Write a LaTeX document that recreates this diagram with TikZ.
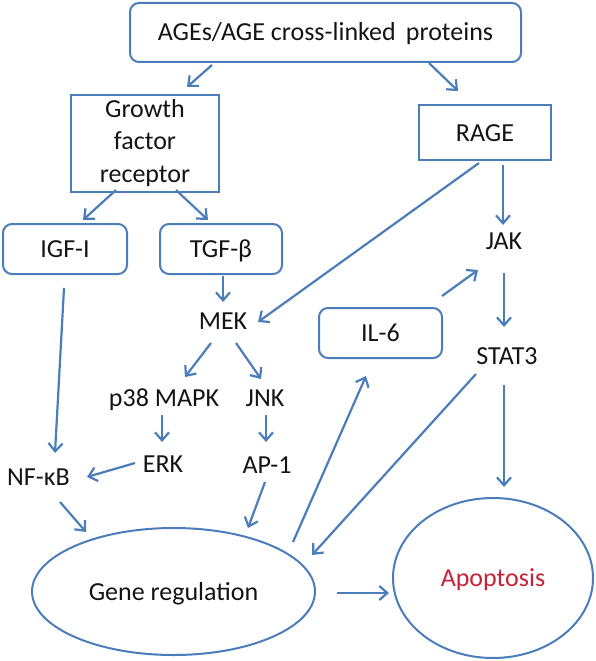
\documentclass[tikz,border=0pt]{standalone}
\usepackage{fontspec}
\setmainfont{Carlito}
\usetikzlibrary{arrows.meta,calc,shapes.geometric}
\definecolor{lblue}{RGB}{74,125,186}
\definecolor{apred}{RGB}{200,32,52}
\definecolor{txt}{RGB}{20,20,20}
\tikzset{
  lbl/.style={inner sep=0pt, text height=17pt, text depth=0pt, text=txt, font=\fontsize{26}{32.5}\selectfont},
  rbox/.style={lbl, draw=lblue, line width=2pt, rounded corners=9pt},
  sbox/.style={lbl, draw=lblue, line width=2pt},
  ebox/.style={lbl, draw=lblue, line width=2pt, ellipse},
  arr/.style={draw=lblue, line width=2.2pt, -{Straight Barb[length=8pt,width=14pt]}}
}
\begin{document}
\begin{tikzpicture}[x=1pt,y=-1pt]
\useasboundingbox (0,0) rectangle (596,661);
% nodes
\node[rbox, minimum width=391pt, minimum height=59pt] (ages) at (325.5,32.5) {AGEs/AGE cross-linked\, proteins};
\node[sbox, minimum width=148pt, minimum height=97pt, align=center, text height={}, text depth={}] (grow) at (145,143) {Growth\\factor\\receptor};
\node[sbox, minimum width=132pt, minimum height=55pt] (rage) at (485,132.5) {RAGE};
\node[rbox, minimum width=124pt, minimum height=50pt] (igf) at (65,249) {IGF-I};
\node[rbox, minimum width=122pt, minimum height=50pt] (tgf) at (221,249) {TGF-β};
\node[rbox, minimum width=123pt, minimum height=50pt] (il6) at (380.5,333) {IL-6};
\node[lbl] (mek) at (223,321) {MEK};
\node[lbl] (jak) at (504,241) {JAK};
\node[lbl] (stat3) at (507,356) {STAT3};
\node[lbl] (p38) at (164,398) {p38 MAPK};
\node[lbl] (jnk) at (265,398) {JNK};
\node[lbl] (erk) at (163,464) {ERK};
\node[lbl] (ap1) at (267,465) {AP-1};
\node[lbl] (nfkb) at (38.5,477) {NF-κB};
\node[ebox, minimum width=283pt, minimum height=127pt] (gene) at (173.5,591.5) {Gene regulation};
\node[ebox, minimum width=200pt, minimum height=160pt, text=apred] (apop) at (493,578) {Apoptosis};
% connectors
\draw[arr] ($(ages)+(-113.5,32.5)$) -- ($(grow)+(42,-56)$);
\draw[arr] ($(ages)+(103.5,30.5)$) -- ($(rage)+(-27,-41.5)$);
\draw[arr] ($(grow)+(-29,47)$) -- ($(igf)+(18,-29)$);
\draw[arr] ($(grow)+(31,47)$) -- ($(tgf)+(-13,-29)$);
\draw[arr] ($(tgf)+(2,27)$) -- ($(mek)+(0,-19)$);
\draw[arr] ($(rage)+(-6,30.5)$) -- ($(mek)+(35,1)$);
\draw[arr] ($(rage)+(18,32.5)$) -- ($(jak)+(-1,-16)$);
\draw[arr] ($(igf)+(-1,39)$) -- ($(nfkb)+(16.5,-24)$);
\draw[arr] ($(mek)+(-12,22)$) -- ($(p38)+(21,-21)$);
\draw[arr] ($(mek)+(13,22)$) -- ($(jnk)+(-4,-19)$);
\draw[arr] ($(p38)+(-2,17)$) -- ($(erk)+(-1,-22)$);
\draw[arr] ($(jnk)+(1,17)$) -- ($(ap1)+(-1,-23)$);
\draw[arr] ($(erk)+(-28,-1)$) -- ($(nfkb)+(48.5,0)$);
\draw[arr] ($(nfkb)+(21.5,25)$) -- ($(gene)+(-87.5,-59.5)$);
\draw[arr] ($(ap1)+(-2,17)$) -- ($(gene)+(74.5,-63.5)$);
\draw[arr] ($(il6)+(61.5,-37)$) -- ($(jak)+(-26,29)$);
\draw[arr] ($(jak)+(0,32)$) -- ($(stat3)+(-3,-29)$);
\draw[arr] ($(gene)+(119.5,-49.5)$) -- ($(il6)+(-14.5,43)$);
\draw[arr] ($(stat3)+(-31,18)$) -- ($(gene)+(138.5,-36.5)$);
\draw[arr] ($(stat3)+(-3,29)$) -- ($(apop)+(11,-91)$);
\draw[arr] ($(gene)+(163.5,1.5)$) -- ($(apop)+(-104,15)$);
\end{tikzpicture}
\end{document}
